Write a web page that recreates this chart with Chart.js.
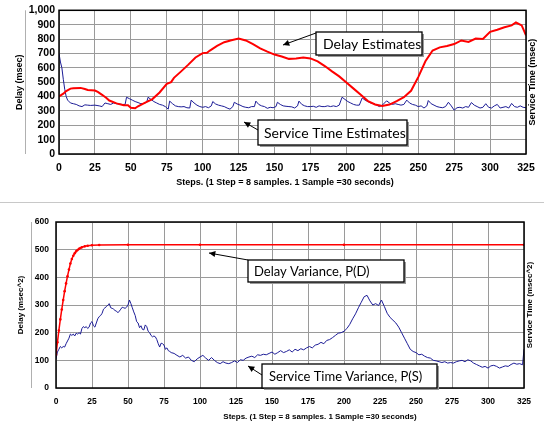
<!DOCTYPE html>
<html>
<head>
<meta charset="utf-8">
<script src="https://cdn.jsdelivr.net/npm/chart.js@4/dist/chart.umd.min.js"></script>
<style>
  body { margin: 0; background: #fff; }
  #wrap { position: relative; width: 544px; height: 423px; }
  canvas { position: absolute; left: 0; }
  #top { top: 0; }
  #bottom { top: 200px; }
</style>
</head>
<body>
<div id="wrap">
  <canvas id="top" width="544" height="200"></canvas>
  <canvas id="bottom" width="544" height="223"></canvas>
</div>
<script>
// x ticks shared by both charts
const stepTicks = [0, 25, 50, 75, 100, 125, 150, 175, 200, 225, 250, 275, 300, 325];
const delayTicks = [0, 100, 200, 300, 400, 500, 600, 700, 800, 900, 1000];
const varianceTicks = [0, 100, 200, 300, 400, 500, 600];

// top chart: Delay Estimates
const delaySteps = [0, 3, 5, 8, 10, 15, 18, 20, 25, 27, 30, 33, 35, 40, 45, 48, 50, 53, 55, 60, 65, 70, 75, 78, 80, 85, 90, 95, 100, 103, 105, 110, 115, 120, 125, 130, 135, 140, 145, 150, 155, 160, 165, 170, 175, 180, 185, 190, 195, 200, 205, 210, 215, 220, 225, 230, 235, 240, 245, 250, 255, 260, 265, 270, 275, 280, 285, 290, 295, 300, 305, 310, 315, 318, 322, 325];
const delayEst = [400, 420, 438, 455, 458, 460, 452, 445, 442, 432, 412, 390, 372, 352, 340, 340, 322, 318, 332, 358, 382, 428, 488, 500, 530, 575, 622, 672, 702, 705, 720, 752, 778, 792, 803, 790, 765, 735, 712, 692, 678, 662, 665, 672, 665, 645, 612, 575, 540, 497, 455, 412, 368, 345, 334, 344, 368, 395, 440, 535, 645, 720, 742, 752, 765, 790, 780, 803, 800, 850, 865, 882, 895, 915, 895, 826];

// top chart: Service Time Estimates
const serviceSteps = [0, 1, 2, 3, 4, 5, 6, 8, 10, 12, 14, 16, 18, 20, 22, 25, 28, 30, 32, 34, 36, 38, 40, 42, 44, 46, 47, 49, 51, 53, 55, 57, 59, 61, 62, 64, 66, 68, 70, 72, 74, 76, 77, 79, 81, 83, 85, 87, 89, 91, 92, 94, 96, 98, 100, 102, 104, 106, 107, 109, 111, 113, 115, 117, 119, 121, 122, 124, 126, 128, 130, 132, 134, 136, 137, 139, 141, 143, 145, 147, 149, 151, 152, 154, 156, 158, 160, 162, 164, 166, 167, 169, 171, 173, 175, 177, 179, 181, 183, 185, 187, 189, 191, 193, 195, 197, 199, 201, 203, 205, 207, 209, 211, 213, 215, 217, 219, 221, 223, 225, 228, 230, 232, 234, 236, 238, 240, 242, 244, 246, 248, 250, 252, 254, 256, 257, 259, 261, 263, 265, 267, 269, 271, 273, 275, 277, 279, 281, 283, 285, 287, 289, 291, 293, 295, 297, 299, 301, 303, 305, 307, 309, 311, 313, 315, 317, 319, 321, 323, 325];
const serviceEst = [700, 640, 600, 520, 450, 400, 375, 355, 350, 345, 335, 330, 342, 340, 338, 340, 335, 330, 355, 350, 345, 355, 350, 348, 345, 345, 395, 385, 375, 365, 358, 350, 352, 360, 395, 380, 365, 355, 345, 340, 330, 312, 368, 350, 335, 330, 328, 330, 322, 320, 375, 355, 340, 330, 325, 330, 322, 335, 365, 348, 340, 335, 330, 320, 312, 330, 360, 348, 340, 330, 325, 322, 330, 330, 368, 345, 335, 330, 318, 325, 322, 330, 360, 345, 335, 332, 330, 328, 320, 335, 368, 345, 335, 330, 330, 332, 325, 335, 330, 330, 335, 330, 335, 330, 340, 395, 380, 365, 355, 345, 340, 340, 390, 375, 365, 355, 350, 340, 330, 340, 370, 355, 345, 350, 345, 340, 345, 375, 355, 345, 340, 330, 335, 320, 335, 372, 350, 340, 330, 325, 322, 330, 360, 335, 305, 322, 325, 320, 330, 325, 358, 340, 330, 320, 325, 350, 325, 320, 335, 345, 320, 325, 330, 320, 352, 330, 325, 335, 325, 322];

// bottom chart: Delay Variance, P(D)
const varDelaySteps = [0, 1, 2, 3, 4, 5, 6, 7, 8, 9, 10, 11, 12, 13, 14, 15, 16, 17, 18, 20, 22, 25, 30, 50, 100, 200, 325];
const varDelay = [120, 165, 208, 248, 284, 318, 350, 378, 404, 428, 450, 466, 478, 487, 494, 499, 503, 506, 509, 512, 514, 516, 517, 518, 518, 518, 518];

// bottom chart: Service Time Variance, P(S)
const varServiceSteps = [0, 1, 2, 3, 4, 5, 6, 7, 8, 9, 10, 11, 12, 13, 14, 15, 16, 17, 18, 19, 20, 21, 22, 23, 24, 25, 26, 27, 28, 29, 30, 31, 32, 33, 34, 35, 36, 37, 38, 39, 40, 41, 42, 43, 44, 45, 46, 47, 48, 49, 50, 51, 52, 53, 54, 55, 56, 57, 58, 59, 60, 61, 62, 63, 64, 65, 66, 67, 68, 69, 70, 71, 72, 73, 74, 75, 76, 77, 78, 79, 80, 82, 84, 86, 88, 90, 92, 94, 96, 98, 100, 102, 104, 106, 108, 110, 112, 114, 116, 118, 120, 122, 124, 126, 128, 130, 132, 134, 136, 138, 140, 142, 144, 146, 148, 150, 152, 154, 156, 158, 160, 162, 164, 166, 168, 170, 172, 174, 176, 178, 180, 182, 184, 186, 188, 190, 192, 194, 196, 198, 200, 202, 204, 206, 208, 210, 212, 214, 216, 217, 218, 220, 222, 224, 226, 228, 230, 232, 234, 236, 238, 240, 242, 244, 246, 248, 250, 252, 254, 256, 258, 260, 262, 264, 266, 268, 270, 272, 274, 276, 278, 280, 282, 284, 286, 288, 290, 292, 294, 296, 298, 300, 302, 304, 306, 308, 310, 312, 314, 316, 318, 320, 322, 324, 325];
const varService = [105, 130, 140, 150, 145, 150, 148, 160, 170, 180, 195, 190, 195, 188, 198, 195, 200, 195, 215, 222, 218, 222, 215, 220, 235, 240, 225, 220, 235, 250, 258, 262, 270, 285, 290, 294, 300, 305, 290, 288, 285, 280, 278, 272, 278, 285, 292, 290, 288, 292, 300, 318, 305, 290, 275, 262, 240, 235, 218, 225, 212, 210, 228, 222, 205, 200, 190, 185, 188, 185, 175, 160, 148, 162, 160, 155, 140, 145, 135, 132, 128, 125, 118, 112, 118, 108, 112, 100, 95, 105, 112, 118, 108, 100, 110, 100, 92, 88, 95, 90, 88, 92, 98, 92, 102, 100, 108, 112, 115, 110, 120, 118, 122, 120, 125, 130, 122, 128, 135, 128, 132, 138, 130, 140, 135, 142, 138, 145, 150, 145, 155, 158, 165, 160, 172, 175, 182, 190, 198, 200, 205, 215, 230, 250, 268, 290, 310, 330, 335, 325, 315, 300, 305, 298, 318, 295, 270, 255, 245, 235, 220, 200, 180, 160, 140, 132, 128, 120, 122, 115, 110, 108, 100, 98, 95, 92, 95, 90, 92, 90, 95, 98, 100, 95, 102, 98, 90, 85, 80, 75, 78, 72, 80, 82, 78, 72, 76, 80, 78, 85, 90, 86, 88, 84, 140];

const toPoints = (xs, ys) => xs.map((x, i) => ({ x: x, y: ys[i] }));

const tickFont = "'Liberation Sans', Arial, sans-serif";
const noteFont = "Lato, 'Open Sans', sans-serif";

// boxes, arrows and axis titles drawn on top of each chart
const decorPlugin = {
  id: "decor",
  afterDatasetsDraw(chart, args, opts) {
    const ctx = chart.ctx;
    const a = chart.chartArea;
    ctx.save();
    ctx.strokeStyle = "#000";
    ctx.lineWidth = 1.5;
    ctx.strokeRect(a.left, a.top, a.right - a.left, a.bottom - a.top);
    ctx.restore();
  },
  afterDraw(chart, args, opts) {
    const ctx = chart.ctx;
    const a = chart.chartArea;
    ctx.save();

    // light rule left of the y title
    ctx.strokeStyle = "#b0b0b0";
    ctx.lineWidth = 1;
    ctx.beginPath();
    ctx.moveTo(opts.ruleX + 0.5, a.top);
    ctx.lineTo(opts.ruleX + 0.5, a.bottom);
    ctx.stroke();

    if (opts.sepY) {
      ctx.strokeStyle = "#c8c8c8";
      ctx.beginPath();
      ctx.moveTo(0, opts.sepY + 0.5);
      ctx.lineTo(544, opts.sepY + 0.5);
      ctx.stroke();
    }

    // axis titles
    ctx.fillStyle = "#000";
    ctx.textAlign = "center";
    ctx.textBaseline = "middle";
    ctx.font = "bold " + opts.titleSize + "px " + tickFont;
    ctx.fillText(opts.xTitle, opts.xTitleX, opts.xTitleY);

    ctx.save();
    ctx.translate(opts.leftTitleX, (a.top + a.bottom) / 2);
    ctx.rotate(-Math.PI / 2);
    ctx.font = "bold " + opts.sideSize + "px " + tickFont;
    ctx.fillText(opts.leftTitle, 0, 0);
    ctx.restore();

    ctx.save();
    ctx.translate(opts.rightTitleX, (a.top + a.bottom) / 2);
    ctx.rotate(-Math.PI / 2);
    ctx.font = "bold " + opts.sideSize + "px " + tickFont;
    ctx.fillText(opts.rightTitle, 0, 0);
    ctx.restore();

    // callout boxes
    opts.notes.forEach((n) => {
      ctx.fillStyle = "#9a9a9a";
      ctx.fillRect(n.x + 2, n.y + 2, n.w, n.h);
      ctx.fillStyle = "#fff";
      ctx.fillRect(n.x, n.y, n.w, n.h);
      ctx.strokeStyle = "#000";
      ctx.lineWidth = 1.3;
      ctx.strokeRect(n.x, n.y, n.w, n.h);
      ctx.fillStyle = "#000";
      ctx.font = n.size + "px " + noteFont;
      ctx.textAlign = "left";
      ctx.textBaseline = "middle";
      ctx.fillText(n.text, n.x + n.pad, n.y + n.h / 2 + 1);

      // arrow
      const [x1, y1, x2, y2] = n.arrow;
      ctx.strokeStyle = "#000";
      ctx.lineWidth = 1;
      ctx.beginPath();
      ctx.moveTo(x1, y1);
      ctx.lineTo(x2, y2);
      ctx.stroke();
      const ang = Math.atan2(y2 - y1, x2 - x1);
      ctx.beginPath();
      ctx.moveTo(x2, y2);
      ctx.lineTo(x2 - 7 * Math.cos(ang - 0.45), y2 - 7 * Math.sin(ang - 0.45));
      ctx.lineTo(x2 - 7 * Math.cos(ang + 0.45), y2 - 7 * Math.sin(ang + 0.45));
      ctx.closePath();
      ctx.fillStyle = "#000";
      ctx.fill();
    });

    ctx.restore();
  },
};

function makeChart(id, cfg) {
  return new Chart(document.getElementById(id), {
    type: "line",
    data: { datasets: cfg.datasets },
    options: {
      responsive: false,
      animation: false,
      layout: { padding: { top: cfg.padTop, right: cfg.padRight, left: 0, bottom: 0 } },
      plugins: { legend: { display: false }, tooltip: { enabled: false }, decor: cfg.decor },
      scales: {
        x: {
          type: "linear",
          min: 0,
          max: 325,
          afterBuildTicks: (s) => { s.ticks = stepTicks.map((v) => ({ value: v })); },
          afterFit: (s) => { s.height = cfg.xHeight; },
          grid: { color: "#9a9a9a", lineWidth: 1, drawTicks: false },
          border: { display: false },
          ticks: {
            padding: cfg.xPad,
            color: "#000",
            maxRotation: 0,
            autoSkip: false,
            font: { family: tickFont, size: cfg.tickSize, weight: "bold" },
          },
        },
        y: {
          min: 0,
          max: cfg.yTicks[cfg.yTicks.length - 1],
          afterBuildTicks: (s) => { s.ticks = cfg.yTicks.map((v) => ({ value: v })); },
          afterFit: (s) => { s.width = cfg.yWidth; },
          grid: { color: "#9a9a9a", lineWidth: 1, drawTicks: false },
          border: { display: false },
          ticks: {
            autoSkip: false,
            padding: cfg.yPad,
            color: "#000",
            font: { family: tickFont, size: cfg.tickSize, weight: "bold" },
            callback: (v) => v.toLocaleString("en-US"),
          },
        },
      },
    },
    plugins: [decorPlugin],
  });
}

makeChart("top", {
  padTop: 8, padRight: 18, xHeight: 46, yWidth: 59, yTicks: delayTicks,
  tickSize: 10.5, xPad: 8, yPad: 4,
  datasets: [
    { data: toPoints(delaySteps, delayEst), borderColor: "#ff0000", borderWidth: 2, pointRadius: 0, tension: 0 },
    { data: toPoints(serviceSteps, serviceEst), borderColor: "#1c1c96", borderWidth: 1, pointRadius: 0, tension: 0 },
  ],
  decor: {
    ruleX: 25, sepY: 0,
    xTitle: "Steps. (1 Step = 8 samples. 1 Sample =30 seconds)", xTitleX: 285, xTitleY: 183, titleSize: 9,
    leftTitle: "Delay (msec)", leftTitleX: 20, rightTitle: "Service Time (msec)", rightTitleX: 533, sideSize: 9,
    notes: [
      { text: "Delay Estimates", x: 316, y: 32, w: 106, h: 23, pad: 7, size: 14, arrow: [316, 33, 283, 45] },
      { text: "Service Time Estimates", x: 258, y: 120, w: 149, h: 25, pad: 6, size: 14, arrow: [258, 130, 244, 122] },
    ],
  },
});

makeChart("bottom", {
  padTop: 22, padRight: 20, xHeight: 35, yWidth: 56, yTicks: varianceTicks,
  tickSize: 8.5, xPad: 9, yPad: 7,
  datasets: [
    { data: toPoints(varDelaySteps, varDelay), borderColor: "#ff0000", backgroundColor: "#ff0000", borderWidth: 1.5, pointRadius: 1.3, pointBorderWidth: 0, tension: 0 },
    { data: toPoints(varServiceSteps, varService), borderColor: "#1c1c96", borderWidth: 1, pointRadius: 0, tension: 0 },
  ],
  decor: {
    ruleX: 31, sepY: 2,
    xTitle: "Steps. (1 Step = 8 samples. 1 Sample =30 seconds)", xTitleX: 320, xTitleY: 217, titleSize: 8,
    leftTitle: "Delay (msec^2)", leftTitleX: 21, rightTitle: "Service Time (msec^2)", rightTitleX: 530, sideSize: 8,
    notes: [
      { text: "Delay Variance, P(D)", x: 248, y: 60, w: 156, h: 22, pad: 6, size: 13, arrow: [248, 60, 209, 53] },
      { text: "Service Time Variance, P(S)", x: 262, y: 164, w: 175, h: 24, pad: 7, size: 13, arrow: [262, 175, 248, 166] },
    ],
  },
});
</script>
</body>
</html>
